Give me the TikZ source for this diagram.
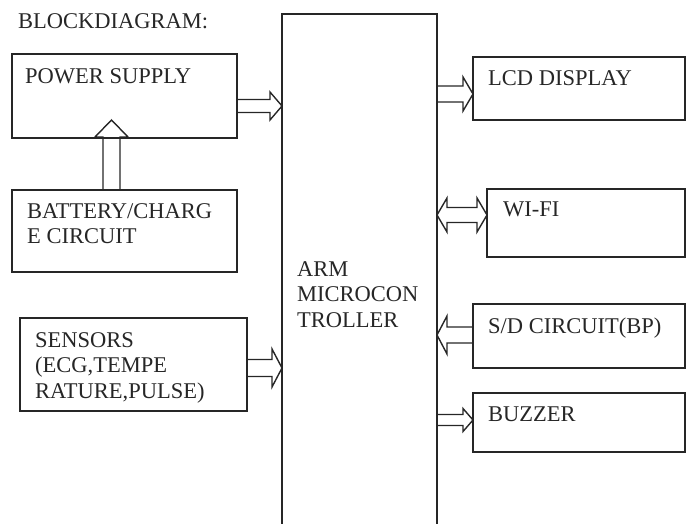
\documentclass[tikz,border=0pt]{standalone}
\usepackage{fontspec}
\setmainfont{Liberation Serif}
\usetikzlibrary{calc,positioning}

\tikzset{
  box/.style={draw=black!85, line width=1.6pt, rectangle, outer sep=0pt, inner sep=0pt, anchor=north west},
  lbl/.style={anchor=north west, inner sep=0pt, align=left, text=black!85, font=\fontsize{22.5}{25.5}\selectfont},
  hollow/.style={draw=black!85, line width=1.4pt, line join=miter}
}

% hollow block arrow: start, tip, shaft half width, head half width, head length
\newcommand{\blockarrow}[5]{%
  \coordinate (ba-h) at ($(#2)!#5pt!(#1)$);
  \draw[hollow] ($(#1)!#3pt!90:(#2)$) -- ($(ba-h)!#3pt!90:(#2)$) -- ($(ba-h)!#4pt!90:(#2)$) -- (#2)
    -- ($(ba-h)!#4pt!-90:(#2)$) -- ($(ba-h)!#3pt!-90:(#2)$) -- ($(#1)!#3pt!-90:(#2)$);
}
% same with a head at both ends
\newcommand{\dblarrow}[5]{%
  \coordinate (da-a) at ($(#1)!#5pt!(#2)$);
  \coordinate (da-b) at ($(#2)!#5pt!(#1)$);
  \draw[hollow] (#1) -- ($(da-a)!#4pt!90:(#2)$) -- ($(da-a)!#3pt!90:(#2)$) -- ($(da-b)!#3pt!90:(#2)$)
    -- ($(da-b)!#4pt!90:(#2)$) -- (#2) -- ($(da-b)!#4pt!-90:(#2)$) -- ($(da-b)!#3pt!-90:(#2)$)
    -- ($(da-a)!#3pt!-90:(#2)$) -- ($(da-a)!#4pt!-90:(#2)$) -- cycle;
}

\begin{document}
\begin{tikzpicture}[x=1pt, y=-1pt]
\clip (0,0) rectangle (686,524);

\node[lbl] (title) at (18,13) {BLOCKDIAGRAM:};

% blocks
\node[box, minimum width=225pt, minimum height=84pt] (ps) at (12,54) {};
\node[box, minimum width=225pt, minimum height=82pt] (bat) at (12,190) {};
\node[box, minimum width=227pt, minimum height=93pt] (sen) at (20,318) {};
\node[box, minimum width=155pt, minimum height=546pt] (arm) at (282,14) {};
\node[box, minimum width=212pt, minimum height=63pt] (lcd) at (473,57) {};
\node[box, minimum width=198pt, minimum height=68pt] (wifi) at (487,189) {};
\node[box, minimum width=212pt, minimum height=64pt] (sd) at (473,304) {};
\node[box, minimum width=212pt, minimum height=59pt] (buz) at (473,393) {};

% labels
\node[lbl] (ps-t) at ($(ps.north west)+(13,14)$) {POWER SUPPLY};
\node[lbl] (bat-t) at ($(bat.north west)+(15,13)$) {BATTERY/CHARG\\E CIRCUIT};
\node[lbl] (sen-t) at ($(sen.north west)+(15,14)$) {SENSORS\\(ECG,TEMPE\\RATURE,PULSE)};
\node[lbl] (arm-t) at ($(arm.north west)+(15,247)$) {ARM\\MICROCON\\TROLLER};
\node[lbl] (lcd-t) at ($(lcd.north west)+(15,13)$) {LCD DISPLAY};
\node[lbl] (wifi-t) at ($(wifi.north west)+(16,13)$) {WI-FI};
\node[lbl] (sd-t) at ($(sd.north west)+(15,14)$) {S/D CIRCUIT(BP)};
\node[lbl] (buz-t) at ($(buz.north west)+(15,14)$) {BUZZER};

% connectors
\coordinate (ps-o) at ($(ps.east)+(0,10)$);
\coordinate (arm-i1) at (ps-o -| arm.west);
\blockarrow{ps-o}{arm-i1}{6.5}{14}{12}

\coordinate (bat-o) at ($(bat.north)+(-13,0)$);
\coordinate (ps-i) at ($(bat-o |- ps.south)+(0,-18)$);
\blockarrow{bat-o}{ps-i}{8.5}{16.5}{17}

\coordinate (sen-o) at ($(sen.east)+(0,3.5)$);
\coordinate (arm-i2) at (sen-o -| arm.west);
\blockarrow{sen-o}{arm-i2}{8.5}{19}{10}

\coordinate (lcd-i) at ($(lcd.west)+(0,5.5)$);
\coordinate (arm-o1) at (lcd-i -| arm.east);
\blockarrow{arm-o1}{lcd-i}{8}{17}{10}

\coordinate (wifi-io) at ($(wifi.west)+(0,-8)$);
\coordinate (arm-io) at (wifi-io -| arm.east);
\dblarrow{arm-io}{wifi-io}{7.5}{17}{10}

\coordinate (sd-o) at ($(sd.west)+(0,-1)$);
\coordinate (arm-i3) at (sd-o -| arm.east);
\blockarrow{sd-o}{arm-i3}{8}{19}{10}

\coordinate (buz-i) at ($(buz.west)+(0,-2.5)$);
\coordinate (arm-o2) at (buz-i -| arm.east);
\blockarrow{arm-o2}{buz-i}{5.5}{11.5}{10}

\end{tikzpicture}
\end{document}
